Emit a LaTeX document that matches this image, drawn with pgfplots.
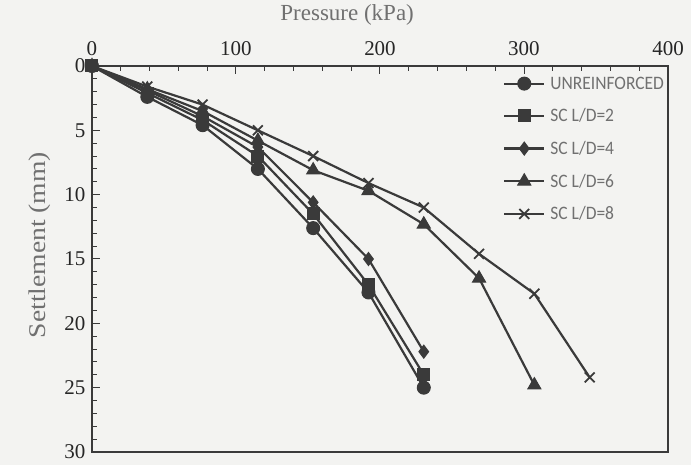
\documentclass[border=0pt]{standalone}
\usepackage{fontspec}
\setmainfont{Liberation Serif}
\newfontfamily\legfam{Carlito}[FakeStretch=0.92]
\newfontfamily\ylabfam{Liberation Serif}[FakeStretch=1.15]
\usepackage{pgfplots}
\pgfplotsset{compat=1.18}
\definecolor{ink}{HTML}{3A3A3A}
\definecolor{lab}{HTML}{707070}
\definecolor{bgc}{HTML}{F3F3F1}

\pgfplotstableread{
x y
0 0
38.4 2.4
76.8 4.6
115.2 8.0
153.6 12.6
192 17.6
230.4 25.0
}\unreinf
\pgfplotstableread{
x y
0 0
38.4 2.1
76.8 4.2
115.2 7.0
153.6 11.5
192 17.0
230.4 24.0
}\ldtwo
\pgfplotstableread{
x y
0 0
38.4 1.9
76.8 3.9
115.2 6.3
153.6 10.6
192 15.0
230.4 22.2
}\ldfour
\pgfplotstableread{
x y
0 0
38.4 1.8
76.8 3.5
115.2 5.8
153.6 8.1
192 9.7
230.4 12.3
268.8 16.5
307.2 24.8
}\ldsix
\pgfplotstableread{
x y
0 0
38.4 1.6
76.8 3.0
115.2 5.0
153.6 7.0
192 9.1
230.4 11.0
268.8 14.6
307.2 17.7
345.6 24.2
}\ldeight

\begin{document}
\begin{tikzpicture}
\fill[bgc] (-92pt,-13pt) rectangle (599pt,452pt);
\begin{axis}[
  scale only axis, width=576pt, height=386pt,
  xmin=0, xmax=400, ymin=0, ymax=30, y dir=reverse,
  xtick={0,100,200,300,400}, ytick={0,5,...,30},
  minor x tick num=4, minor y tick num=4,
  xtick pos=right, xticklabel pos=right, ytick pos=left,
  tick align=inside,
  major tick length=8pt, minor tick length=5pt,
  axis line style={draw=ink, line width=1.8pt},
  every tick/.style={ink, line width=1pt},
  /pgf/number format/assume math mode=true,
  tick label style={font=\fontsize{21}{24}\selectfont, text=black!85},
  xticklabel style={yshift=7pt},
  yticklabel style={xshift=-3pt},
  xlabel={Pressure (kPa)},
  xlabel style={at={(axis description cs:0.443,1)}, anchor=center, yshift=51pt,
    font=\fontsize{23}{26}\selectfont, text=lab},
  ylabel={Settlement (mm)},
  ylabel style={at={(axis description cs:0,0.536)}, anchor=center, yshift=52pt,
    font=\ylabfam\fontsize{24}{26}\selectfont, text=lab},
  legend style={draw=none, fill=none, at={(axis description cs:0.7135,0.978)},
    anchor=north west, font=\legfam\fontsize{19}{21}\selectfont, text=lab,
    row sep=14pt, inner sep=0pt,
    /tikz/every odd column/.append style={column sep=3pt}},
  legend cell align=left,
  legend image code/.code={\draw[mark repeat=2,mark phase=2,#1] plot coordinates {(0pt,0pt) (20pt,0pt) (40pt,0pt)};},
  every axis plot/.append style={ink, line width=2.2pt, mark options={solid, fill=ink, line width=1pt}},
]
\addplot[mark=*, mark size=6.5pt] table {\unreinf};
\addlegendentry{UNREINFORCED}
\addplot[mark=square*, mark size=6pt] table {\ldtwo};
\addlegendentry{SC L/D=2}
\addplot[mark=diamond*, mark size=6.5pt] table {\ldfour};
\addlegendentry{SC L/D=4}
\addplot[mark=triangle*, mark size=7.5pt] table {\ldsix};
\addlegendentry{SC L/D=6}
\addplot[mark=x, mark size=7pt, mark options={line width=1.8pt}] table {\ldeight};
\addlegendentry{SC L/D=8}
\end{axis}
\pgfresetboundingbox
\path[use as bounding box] (-92pt,-13pt) rectangle (599pt,452pt);
\end{tikzpicture}
\end{document}
